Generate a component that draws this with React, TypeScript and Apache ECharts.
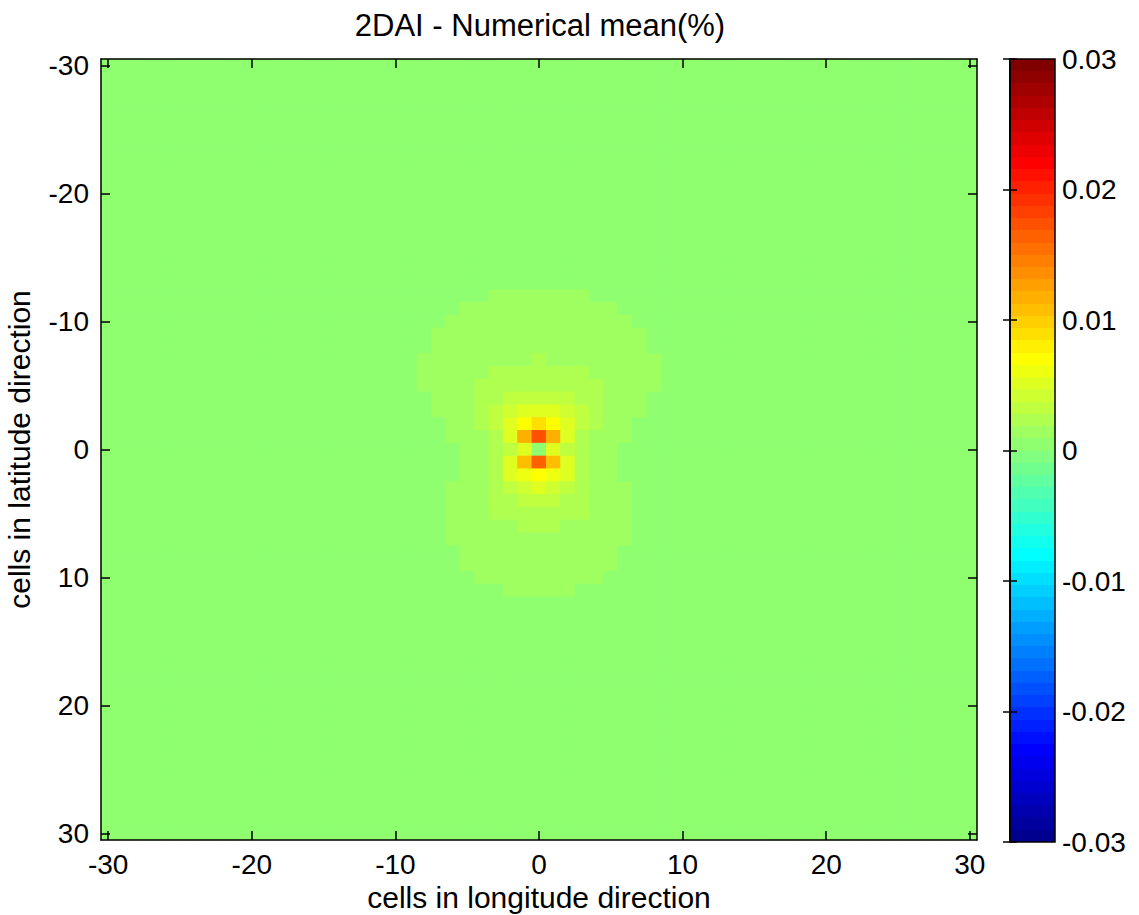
import React, { useEffect, useRef } from "react";
import * as echarts from "echarts";

// ---- axis categories (cells from -30 to 30) ----
const xCells: string[] = Array.from({ length: 61 }, (_, k) => String(k - 30));
const yCells: string[] = Array.from({ length: 61 }, (_, k) => String(k - 30));
const axisTickValues = [-30, -20, -10, 0, 10, 20, 30];

// ---- colour scale range ----
const cMin = -0.03;
const cMax = 0.03;

// ---- cell values (levels of the 64-step colour map) ----
const Z = 0.00048; // background
const A = 0.00143;
const B = 0.00238;
const C = 0.00333;
const D = 0.00429;
const E = 0.00524;
const F = 0.00619;
const G = 0.00714;
const H = 0.00905;
const K = 0.01095;
const M = 0.0119;
const P = 0.01667;
const Q = 0.01762;

// rows j = -12 .. 11 (latitude), columns i = -8 .. 8 (longitude)
const blobRowStart = -12;
const blobColStart = -8;
const blobRows: number[][] = [
  [Z, Z, Z, Z, Z, A, A, A, A, A, A, A, Z, Z, Z, Z, Z], // -12
  [Z, Z, Z, A, A, A, A, A, A, A, A, A, A, A, Z, Z, Z], // -11
  [Z, Z, A, A, A, A, A, A, A, A, A, A, A, A, A, Z, Z], // -10
  [Z, A, A, A, A, A, A, A, A, A, A, A, A, A, A, A, Z], // -9
  [Z, A, A, A, A, A, A, A, A, A, A, A, A, A, A, A, Z], // -8
  [A, A, A, A, A, A, A, A, B, A, A, A, A, A, A, A, A], // -7
  [A, A, A, A, A, B, B, B, B, B, B, B, A, A, A, A, A], // -6
  [A, A, A, A, B, B, B, B, B, B, B, B, B, A, A, A, A], // -5
  [Z, A, A, A, B, B, C, C, C, C, C, B, B, A, A, A, Z], // -4
  [Z, A, A, A, B, C, D, E, E, E, D, C, B, A, A, A, Z], // -3
  [Z, Z, A, A, B, C, E, G, H, G, E, C, B, A, A, Z, Z], // -2
  [Z, Z, A, A, A, B, E, M, Q, M, E, B, A, A, A, Z, Z], // -1
  [Z, Z, Z, A, A, B, C, E, Z, E, C, B, A, A, Z, Z, Z], // 0
  [Z, Z, Z, A, A, B, E, K, P, K, E, B, A, A, Z, Z, Z], // 1
  [Z, Z, Z, A, A, B, E, F, G, F, E, B, A, A, Z, Z, Z], // 2
  [Z, Z, A, A, A, B, C, D, E, D, C, B, A, A, A, Z, Z], // 3
  [Z, Z, A, A, A, B, B, C, C, C, B, B, A, A, A, Z, Z], // 4
  [Z, Z, A, A, A, B, B, B, B, B, B, B, A, A, A, Z, Z], // 5
  [Z, Z, A, A, A, A, A, B, B, B, A, A, A, A, A, Z, Z], // 6
  [Z, Z, A, A, A, A, A, A, A, A, A, A, A, A, A, Z, Z], // 7
  [Z, Z, Z, A, A, A, A, A, A, A, A, A, A, A, Z, Z, Z], // 8
  [Z, Z, Z, A, A, A, A, A, A, A, A, A, A, A, Z, Z, Z], // 9
  [Z, Z, Z, Z, A, A, A, A, A, A, A, A, A, Z, Z, Z, Z], // 10
  [Z, Z, Z, Z, Z, Z, A, A, A, A, A, Z, Z, Z, Z, Z, Z], // 11
];

// MATLAB-like "jet" colour map with 64 steps
function jetColors(m: number): string[] {
  const q = Math.ceil(m / 4);
  const u: number[] = [];
  for (let t = 1; t <= q; t++) u.push(t / q);
  for (let t = 1; t <= q - 1; t++) u.push(1);
  for (let t = q; t >= 1; t--) u.push(t / q);
  const g0 = Math.ceil(q / 2) - (m % 4 === 1 ? 1 : 0);
  const pick = (s: number) => (s >= 1 && s <= u.length ? u[s - 1] : 0);
  const hex = (v: number) => {
    const h = Math.round(v * 255).toString(16);
    return h.length < 2 ? "0" + h : h;
  };
  const out: string[] = [];
  for (let k = 1; k <= m; k++) {
    const r = pick(k - g0 - q);
    const g = pick(k - g0);
    const b = pick(k - g0 + q);
    out.push("#" + hex(r) + hex(g) + hex(b));
  }
  return out;
}

export default function App() {
  const ref = useRef<HTMLDivElement>(null);

  useEffect(() => {
    if (!ref.current) return;
    const chart = echarts.init(ref.current, undefined, { renderer: "svg" });
    const jet = jetColors(64);

    const data: [number, number, number][] = [];
    for (let yi = 0; yi < yCells.length; yi++) {
      const j = Number(yCells[yi]);
      for (let xi = 0; xi < xCells.length; xi++) {
        const i = Number(xCells[xi]);
        const r = j - blobRowStart;
        const c = i - blobColStart;
        let v = Z;
        if (r >= 0 && r < blobRows.length && c >= 0 && c < blobRows[r].length) {
          v = blobRows[r][c];
        }
        data.push([xi, yi, v]);
      }
    }

    const stops: { offset: number; color: string }[] = [];
    jet.forEach((col, k) => {
      stops.push({ offset: k / jet.length, color: col });
      stops.push({ offset: (k + 1) / jet.length, color: col });
    });

    const isTick = (_idx: number, val: string) =>
      axisTickValues.indexOf(Number(val)) >= 0;

    const font = "'Liberation Sans', Arial, Helvetica, sans-serif";
    const lineStyle = { color: "#000", width: 1.5 };

    const option: any = {
      animation: false,
      textStyle: { fontFamily: font, color: "#000" },
      title: {
        text: "2DAI - Numerical mean(%)",
        left: 540,
        top: 10,
        padding: 0,
        textAlign: "center",
        textStyle: { fontFamily: font, fontSize: 31, fontWeight: "normal", color: "#000" },
      },
      grid: [
        {
          left: 101,
          top: 59,
          width: 876,
          height: 781,
          outerBoundsMode: "none",
          containLabel: false,
          show: true,
          backgroundColor: "#8fff70",
          borderColor: "#000",
          borderWidth: 0,
        },
        {
          left: 1010,
          top: 59,
          width: 45,
          height: 783,
          outerBoundsMode: "none",
          containLabel: false,
          show: true,
          backgroundColor: {
            type: "linear",
            x: 0,
            y: 1,
            x2: 0,
            y2: 0,
            colorStops: stops,
          },
          borderColor: "#000",
          borderWidth: 1.5,
        },
      ],
      xAxis: [
        {
          type: "category",
          gridIndex: 0,
          position: "bottom",
          data: xCells,
          z: 10,
          axisLine: { show: true, lineStyle },
          axisTick: { show: true, inside: true, length: 9, alignWithLabel: true, interval: isTick, lineStyle },
          axisLabel: { show: true, interval: isTick, fontSize: 28, margin: 10, color: "#000", fontFamily: font },
          splitLine: { show: false },
          name: "cells in longitude direction",
          nameLocation: "middle",
          nameGap: 41,
          nameTextStyle: { fontSize: 30, color: "#000", fontFamily: font },
        },
        {
          type: "category",
          gridIndex: 0,
          position: "top",
          data: xCells,
          z: 10,
          axisLine: { show: true, lineStyle },
          axisTick: { show: true, inside: true, length: 9, alignWithLabel: true, interval: isTick, lineStyle },
          axisLabel: { show: false },
          splitLine: { show: false },
        },
        {
          type: "value",
          gridIndex: 1,
          min: 0,
          max: 1,
          show: false,
        },
      ],
      yAxis: [
        {
          type: "category",
          gridIndex: 0,
          position: "left",
          inverse: true,
          data: yCells,
          z: 10,
          axisLine: { show: true, lineStyle },
          axisTick: { show: true, inside: true, length: 9, alignWithLabel: true, interval: isTick, lineStyle },
          axisLabel: { show: true, interval: isTick, fontSize: 28, margin: 12, color: "#000", fontFamily: font },
          splitLine: { show: false },
          name: "cells in latitude direction",
          nameLocation: "middle",
          nameRotate: 90,
          nameGap: 67,
          nameTextStyle: { fontSize: 30, color: "#000", fontFamily: font },
        },
        {
          type: "category",
          gridIndex: 0,
          position: "right",
          inverse: true,
          data: yCells,
          z: 10,
          axisLine: { show: true, lineStyle },
          axisTick: { show: true, inside: true, length: 9, alignWithLabel: true, interval: isTick, lineStyle },
          axisLabel: { show: false },
          splitLine: { show: false },
        },
        {
          type: "value",
          gridIndex: 1,
          position: "right",
          min: cMin,
          max: cMax,
          interval: 0.01,
          z: 10,
          axisLine: { show: true, lineStyle },
          axisTick: { show: true, inside: true, length: 7, lineStyle },
          axisLabel: { show: true, fontSize: 28, margin: 7, color: "#000", fontFamily: font },
          splitLine: { show: false },
        },
        {
          type: "value",
          gridIndex: 1,
          position: "left",
          min: cMin,
          max: cMax,
          interval: 0.01,
          z: 10,
          axisLine: { show: true, lineStyle },
          axisTick: { show: true, inside: true, length: 7, lineStyle },
          axisLabel: { show: false },
          splitLine: { show: false },
        },
      ],
      visualMap: {
        type: "continuous",
        show: false,
        seriesIndex: 0,
        min: cMin,
        max: cMax,
        inRange: { color: jet },
      },
      series: [
        {
          type: "heatmap",
          xAxisIndex: 0,
          yAxisIndex: 0,
          data,
          progressive: 0,
          itemStyle: { borderWidth: 0 },
          emphasis: { disabled: true },
          silent: true,
        },
      ],
    };

    chart.setOption(option);
    return () => chart.dispose();
  }, []);

  return (
    <div
      ref={ref}
      style={{ position: "absolute", left: 0, top: 0, width: 1139, height: 915, background: "#fff" }}
    />
  );
}
